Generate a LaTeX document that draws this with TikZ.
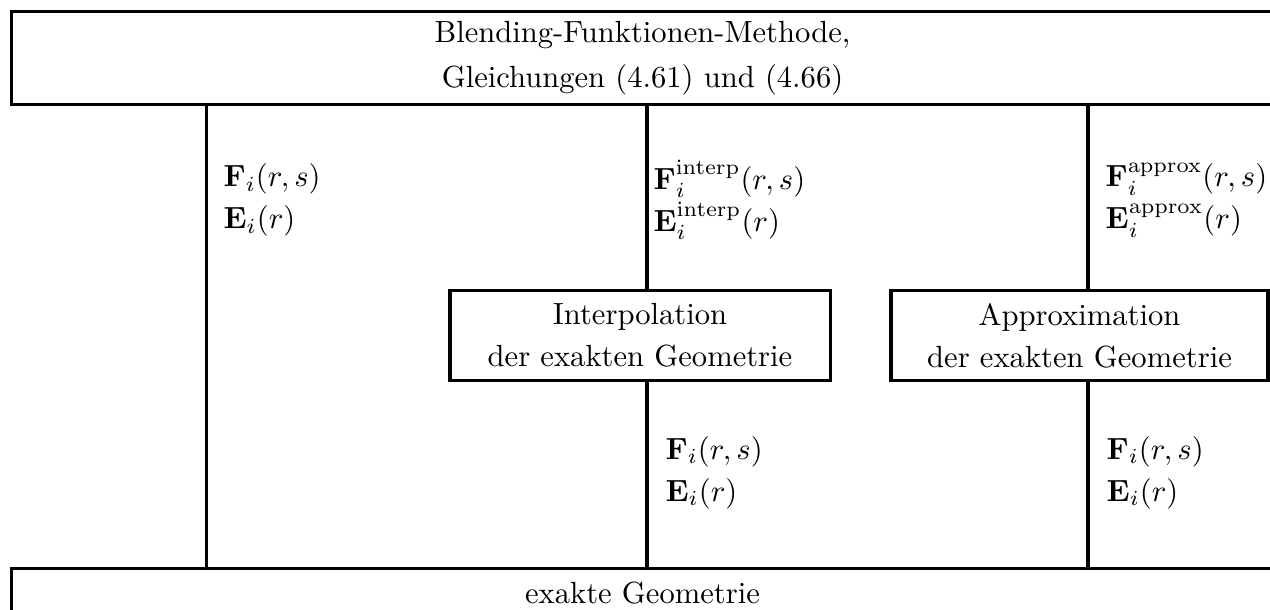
\documentclass[tikz,border=0pt]{standalone}
\usepackage{amsmath}
\begin{document}
\begin{tikzpicture}[x=0.3268pt,y=-0.3268pt,
  box/.style={draw,line width=1pt,inner sep=0pt,align=center,
    font=\fontsize{10}{13.8}\selectfont},
  lbl/.style={inner sep=0pt,anchor=west,align=left,
    font=\fontsize{10}{13.7}\selectfont},
  conn/.style={line width=1.1pt}]
\useasboundingbox (0,0) rectangle (1270,610);
\clip (0,0) rectangle (1270,610);
% boxes
\node[box,anchor=north west,minimum width=412.4pt,minimum height=30.4pt,
  font=\fontsize{10}{14.5}\selectfont] (top) at (10,10)
  {Blending-Funktionen-Methode,\\ Gleichungen (4.61) und (4.66)};
\node[box,anchor=north west,minimum width=412.4pt,minimum height=15.7pt] (bot) at (10,567)
  {exakte Geometrie};
\node[box,minimum width=124.2pt,minimum height=29.7pt] (ip) at (640,335.5)
  {Interpolation\\ der exakten Geometrie};
\node[box,minimum width=123.2pt,minimum height=29.7pt] (ap) at (1079.5,335.5)
  {Approximation\\ der exakten Geometrie};
% line positions
\coordinate (xl) at (206.5,0);
\coordinate (xm) at (647,0);
\coordinate (xr) at (1088,0);
% connectors
\draw[conn] (xl |- top.south) -- (xl |- bot.north);
\draw[conn] (xm |- top.south) -- (xm |- ip.north);
\draw[conn] (xm |- ip.south) -- (xm |- bot.north);
\draw[conn] (xr |- top.south) -- (xr |- ap.north);
\draw[conn] (xr |- ap.south) -- (xr |- bot.north);
% labels
\node[lbl] (l1) at (223,200) {$\mathbf{F}_i(r,s)$\\ $\mathbf{E}_i(r)$};
\node[lbl] (l2) at (653,200) {$\mathbf{F}_i^{\mathrm{interp}}(r,s)$\\ $\mathbf{E}_i^{\mathrm{interp}}(r)$};
\node[lbl] (l3) at (1105,200) {$\mathbf{F}_i^{\mathrm{approx}}(r,s)$\\ $\mathbf{E}_i^{\mathrm{approx}}(r)$};
\node[lbl] (l4) at (665,472.5) {$\mathbf{F}_i(r,s)$\\ $\mathbf{E}_i(r)$};
\node[lbl] (l5) at (1106,472.5) {$\mathbf{F}_i(r,s)$\\ $\mathbf{E}_i(r)$};
\end{tikzpicture}
\end{document}
